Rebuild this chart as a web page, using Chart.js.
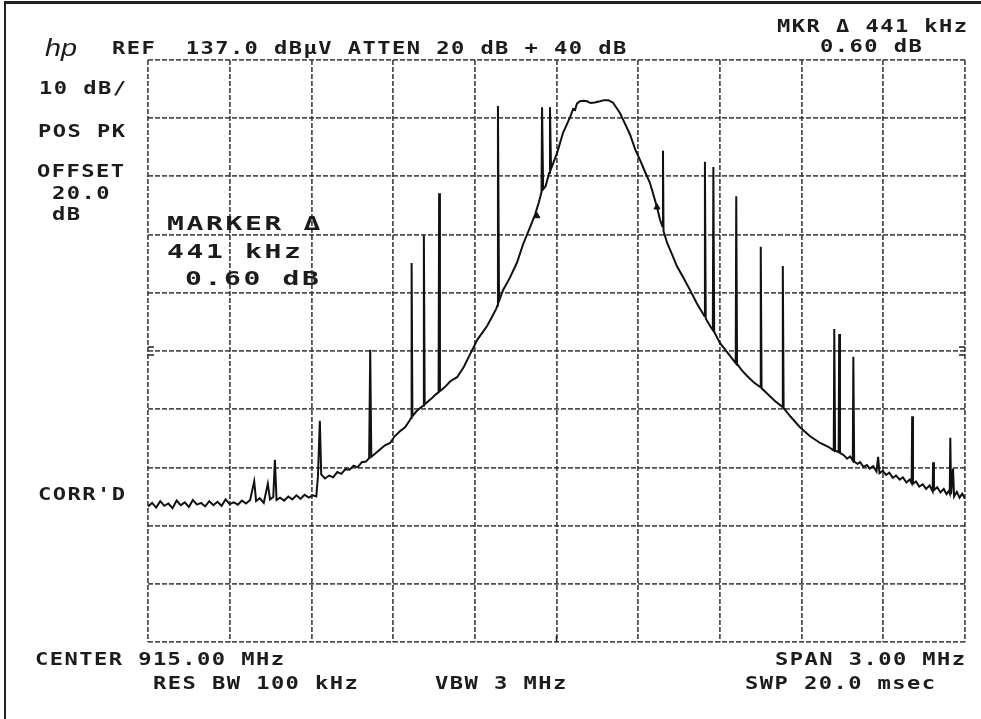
<!DOCTYPE html>
<html>
<head>
<meta charset="utf-8">
<script src="https://cdn.jsdelivr.net/npm/chart.js@4.4.1/dist/chart.umd.min.js"></script>
<style>
  html, body { margin: 0; padding: 0; background: #fff; }
  #wrap { position: relative; width: 981px; height: 719px; overflow: hidden; }
  #frame { position: absolute; left: 4px; top: 1px; width: 990px; height: 730px;
           border-left: 2px solid #222; border-top: 3px solid #222; }
  canvas { position: absolute; left: 0; top: 0; }
  .t { position: absolute; font-family: 'DejaVu Sans Mono', monospace; font-weight: bold;
       font-size: 17px; line-height: 17px; letter-spacing: 1.1px; color: #1c1c1c;
       transform: scaleX(1.3); transform-origin: 0 0; white-space: pre; }
  .big { font-size: 20px; line-height: 20px; letter-spacing: 1.9px; transform: scaleX(1.4); }
  .logo { position: absolute; left: 45px; top: 36px; font-family: 'Liberation Sans', sans-serif;
          font-style: italic; font-size: 24px; line-height: 24px; color: #1c1c1c;
          transform: scaleX(1.2); transform-origin: 0 0; }
</style>
</head>
<body>
<div id="wrap">
  <canvas id="spectrum" width="981" height="719"></canvas>
  <div id="frame"></div>
  <div class="logo">hp</div>
  <div class="t" style="left:112px;top:40px">REF  137.0 dBµV ATTEN 20 dB + 40 dB</div>
  <div class="t" style="left:777px;top:18px">MKR Δ 441 kHz</div>
  <div class="t" style="left:820px;top:38px">0.60 dB</div>
  <div class="t" style="left:39px;top:80px">10 dB/</div>
  <div class="t" style="left:38px;top:123px">POS PK</div>
  <div class="t" style="left:37px;top:163px">OFFSET</div>
  <div class="t" style="left:52px;top:185px">20.0</div>
  <div class="t" style="left:52px;top:206px">dB</div>
  <div class="t" style="left:38px;top:486px">CORR'D</div>
  <div class="t big" style="left:167px;top:213px">MARKER Δ</div>
  <div class="t big" style="left:167px;top:241px">441 kHz</div>
  <div class="t big" style="left:185px;top:268px">0.60 dB</div>
  <div class="t" style="left:35px;top:651px">CENTER 915.00 MHz</div>
  <div class="t" style="left:153px;top:675px">RES BW 100 kHz</div>
  <div class="t" style="left:435px;top:675px">VBW 3 MHz</div>
  <div class="t" style="left:775px;top:651px">SPAN 3.00 MHz</div>
  <div class="t" style="left:745px;top:675px">SWP 20.0 msec</div>
</div>
<script>
// screen: ref 137 dBuV, 10 dB/div, center 915 MHz, span 3 MHz
const xGrid = [913.5, 913.8, 914.1, 914.4, 914.7, 915.0, 915.3, 915.6, 915.9, 916.2, 916.5];
const yGrid = [37, 47, 57, 67, 77, 87, 97, 107, 117, 127, 137];
const refLineDb = 87;
const centerMHz = 915.0;

// trace (spurs are the narrow up/down triples)
const traceMHz = [
  913.500, 913.515, 913.530, 913.545, 913.560, 913.575, 913.590, 913.605, 913.620, 913.635,
  913.650, 913.665, 913.680, 913.695, 913.710, 913.725, 913.740, 913.755, 913.770, 913.785,
  913.800, 913.815, 913.830, 913.845, 913.860, 913.875, 913.890, 913.897, 913.910, 913.925,
  913.940, 913.948, 913.960, 913.966, 913.972, 913.985, 914.000, 914.015, 914.030, 914.045,
  914.060, 914.075, 914.090, 914.105, 914.118, 914.124, 914.131, 914.136, 914.150, 914.165,
  914.180, 914.195, 914.210, 914.225, 914.240, 914.255, 914.270, 914.285, 914.300, 914.312,
  914.316, 914.320, 914.340, 914.355, 914.370, 914.389, 914.405, 914.425, 914.444, 914.460,
  914.466, 914.468, 914.471, 914.485, 914.499, 914.511, 914.513, 914.516, 914.530, 914.545,
  914.558, 914.567, 914.569, 914.572, 914.590, 914.610, 914.635, 914.660, 914.680, 914.693,
  914.710, 914.730, 914.745, 914.760, 914.778, 914.783, 914.785, 914.789, 914.804, 914.829,
  914.855, 914.877, 914.903, 914.921, 914.935, 914.945, 914.947, 914.951, 914.960, 914.973,
  914.976, 914.980, 915.002, 915.024, 915.050, 915.061, 915.068, 915.075, 915.086, 915.100,
  915.112, 915.125, 915.140, 915.160, 915.175, 915.190, 915.207, 915.220, 915.233, 915.250,
  915.270, 915.290, 915.307, 915.325, 915.343, 915.355, 915.369, 915.380, 915.389, 915.391,
  915.393, 915.406, 915.425, 915.442, 915.468, 915.490, 915.515, 915.543, 915.545, 915.548,
  915.565, 915.574, 915.576, 915.579, 915.600, 915.625, 915.648, 915.658, 915.660, 915.663,
  915.680, 915.700, 915.725, 915.748, 915.750, 915.753, 915.780, 915.805, 915.829, 915.831,
  915.834, 915.860, 915.894, 915.930, 915.968, 916.000, 916.018, 916.020, 916.023, 916.036,
  916.038, 916.041, 916.055, 916.067, 916.078, 916.088, 916.090, 916.093, 916.105, 916.115,
  916.127, 916.140, 916.150, 916.163, 916.175, 916.181, 916.186, 916.198, 916.210, 916.222,
  916.235, 916.247, 916.260, 916.272, 916.285, 916.297, 916.304, 916.306, 916.309, 916.320,
  916.332, 916.345, 916.357, 916.370, 916.381, 916.383, 916.386, 916.398, 916.410, 916.422,
  916.432, 916.440, 916.444, 916.446, 916.449, 916.456, 916.460, 916.470, 916.480, 916.490,
  916.500
];
const traceDb = [
  60.3, 60.9, 60.1, 61.2, 60.4, 60.8, 60.0, 61.3, 60.5, 61.0,
  60.2, 61.4, 60.6, 60.9, 60.3, 61.2, 60.5, 61.1, 60.4, 61.5,
  60.7, 61.0, 60.6, 61.3, 60.8, 61.4, 64.6, 61.2, 61.7, 60.9,
  64.2, 61.5, 61.9, 68.3, 61.4, 61.8, 61.3, 62.0, 61.5, 62.2,
  61.6, 62.3, 61.8, 62.2, 62.0, 65.5, 75.0, 65.8, 65.1, 65.6,
  65.3, 66.2, 65.9, 66.7, 66.6, 67.3, 67.0, 67.9, 68.0, 68.6,
  87.2, 68.8, 69.6, 70.2, 70.8, 71.2, 72.3, 73.2, 73.9, 75.0,
  75.5, 102.1, 75.8, 76.6, 77.2, 77.6, 106.9, 77.8, 78.4, 79.0,
  79.6, 79.9, 114.1, 80.1, 80.8, 81.8, 82.5, 84.3, 86.2, 87.4,
  89.0, 90.3, 91.3, 92.6, 94.2, 94.8, 129.1, 95.6, 97.5, 99.6,
  102.2, 105.3, 108.3, 110.4, 112.5, 114.3, 128.9, 114.8, 115.3, 117.6,
  128.9, 118.3, 121.0, 124.5, 127.2, 128.6, 128.4, 129.5, 129.9, 130.0,
  129.9, 129.6, 129.7, 129.9, 130.1, 130.1, 129.7, 128.8, 127.9, 126.2,
  124.2, 121.5, 119.8, 117.8, 115.9, 114.0, 111.7, 109.6, 108.4, 121.4,
  107.6, 105.6, 103.5, 101.6, 99.4, 97.5, 95.2, 93.0, 119.5, 92.6,
  91.2, 90.6, 118.6, 90.3, 88.4, 86.9, 85.5, 84.9, 113.6, 84.8,
  83.7, 82.7, 81.6, 80.8, 104.9, 80.6, 79.4, 78.3, 77.4, 101.6,
  77.2, 75.7, 73.9, 72.4, 71.2, 70.5, 69.9, 90.8, 69.9, 69.6,
  89.9, 69.5, 69.1, 68.5, 68.9, 68.2, 86.0, 68.0, 67.6, 67.9,
  67.1, 67.4, 66.8, 67.2, 66.3, 68.8, 66.0, 66.4, 65.7, 66.1,
  65.2, 65.6, 64.9, 65.3, 64.4, 64.9, 64.3, 75.8, 64.2, 64.6,
  63.7, 64.1, 63.3, 63.9, 62.9, 67.9, 63.1, 63.6, 62.7, 63.3,
  62.4, 62.9, 62.5, 72.1, 62.4, 66.8, 62.0, 62.8, 61.8, 62.5,
  61.6
];

// marker and delta marker, 441 kHz apart
const markerMHz = [914.928, 915.369];
const markerDb = [110.2, 111.7];

const edgeMarks = {
  id: 'edgeMarks',
  afterDatasetsDraw(chart) {
    const { ctx, chartArea: a, scales: { x, y } } = chart;
    const yr = y.getPixelForValue(refLineDb);
    const xc = x.getPixelForValue(centerMHz);
    ctx.save();
    ctx.strokeStyle = '#222';
    ctx.lineWidth = 1.5;
    ctx.beginPath();
    [-4, 4].forEach(d => {
      ctx.moveTo(a.left, yr + d); ctx.lineTo(a.left + 6, yr + d);
      ctx.moveTo(a.right, yr + d); ctx.lineTo(a.right - 6, yr + d);
    });
    ctx.moveTo(xc, a.bottom); ctx.lineTo(xc, a.bottom - 6);
    ctx.stroke();
    ctx.restore();
  }
};

const gridOpts = { color: 'rgba(50,50,50,0.85)', lineWidth: 1.8, drawTicks: false };
const borderOpts = { display: false, dash: [5, 2] };

new Chart(document.getElementById('spectrum'), {
  type: 'scatter',
  data: {
    datasets: [{
      data: traceMHz.map((f, i) => ({ x: f, y: traceDb[i] })),
      showLine: true,
      borderColor: '#111',
      borderWidth: 2,
      pointRadius: 0,
      tension: 0
    }, {
      data: markerMHz.map((f, i) => ({ x: f, y: markerDb[i] })),
      showLine: false,
      pointStyle: 'triangle',
      pointRadius: 3.5,
      backgroundColor: '#111',
      borderColor: '#111',
      borderWidth: 1
    }]
  },
  plugins: [edgeMarks],
  options: {
    responsive: false,
    animation: false,
    devicePixelRatio: 1,
    layout: { padding: { left: 148, top: 60, right: 16, bottom: 77 } },
    plugins: { legend: { display: false }, tooltip: { enabled: false } },
    scales: {
      x: {
        type: 'linear', min: 913.5, max: 916.5,
        afterBuildTicks: axis => { axis.ticks = xGrid.map(v => ({ value: v })); },
        ticks: { display: false },
        grid: gridOpts, border: borderOpts
      },
      y: {
        type: 'linear', min: 37, max: 137,
        afterBuildTicks: axis => { axis.ticks = yGrid.map(v => ({ value: v })); },
        ticks: { display: false },
        grid: gridOpts, border: borderOpts
      }
    }
  }
});
</script>
</body>
</html>
